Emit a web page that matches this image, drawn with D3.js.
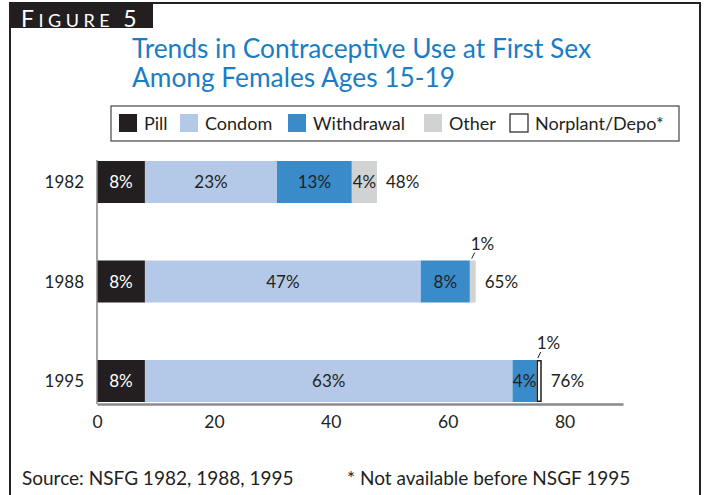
<!DOCTYPE html>
<html><head><meta charset="utf-8">
<script src="https://cdn.jsdelivr.net/npm/d3@7"></script>
<style>body{margin:0;background:#fff}svg{display:block}text{font-family:Lato,"Open Sans",sans-serif}</style>
</head><body>
<script>
const years = ["1982","1988","1995"];
const seriesNames = ["Pill","Condom","Withdrawal","Other","Norplant/Depo*"];
const pill       = [8.2, 8.2, 8.2];
const condom     = [22.6, 47.2, 62.9];
const withdrawal = [12.8, 8.4, 4.1];
const other      = [4.3, 1.0, 0];
const norplant   = [0, 0, 0.9];
const pillLabels       = ["8%","8%","8%"];
const condomLabels     = ["23%","47%","63%"];
const withdrawalLabels = ["13%","8%","4%"];
const otherLabels      = ["4%","1%",""];
const norplantLabels   = ["","","1%"];
const totalLabels      = ["48%","65%","76%"];
const xTicks = [0,20,40,60,80];
const colors = ["#231f20","#b4c9e8","#3a8bc9","#d1d2d4","#ffffff"];

const W=704,H=495;
const svg=d3.select("body").append("svg").attr("width",W).attr("height",H);
svg.append("rect").attr("width",W).attr("height",H).attr("fill","#fff");

// frame
svg.append("path").attr("d","M10,495 V3 H700 V495").attr("fill","none").attr("stroke","#222").attr("stroke-width",2);
svg.append("rect").attr("x",9).attr("y",2).attr("width",144).attr("height",26).attr("fill","#231f20");
const fig=svg.append("text").attr("x",21).attr("y",27).attr("fill","#fff").attr("letter-spacing",4.5);
fig.append("tspan").attr("font-size",23).text("F");
fig.append("tspan").attr("font-size",18).text("IGURE");
fig.append("tspan").attr("font-size",23).attr("dx",9).text("5");

// title
const title=svg.append("text").attr("fill","#1a7dc4").attr("font-size",26.3);
title.append("tspan").attr("x",132).attr("y",58).text("Trends in Contraceptive Use at First Sex");
title.append("tspan").attr("x",132).attr("y",87).text("Among Females Ages 15-19");

// legend
svg.append("rect").attr("x",111).attr("y",106).attr("width",568).attr("height",35).attr("fill","none").attr("stroke","#444").attr("stroke-width",1.2);
const legX=[119,180,288,424,510];
seriesNames.forEach((n,i)=>{
  svg.append("rect").attr("x",legX[i]).attr("y",114).attr("width",18).attr("height",18)
    .attr("fill",colors[i]).attr("stroke",i===4?"#231f20":"none").attr("stroke-width",1.2);
  svg.append("text").attr("x",legX[i]+25).attr("y",129.5).attr("font-size",18).attr("fill","#231f20").text(n);
});

// scales
const x=d3.scaleLinear().domain([0,90]).range([97,623]);
const y=d3.scalePoint().domain(years).range([182,381]);
const bh=42;

const series=[pill,condom,withdrawal,other,norplant];
const labels=[pillLabels,condomLabels,withdrawalLabels,otherLabels,norplantLabels];
const g=svg.append("g");
years.forEach((yr,j)=>{
  let cum=0;
  series.forEach((s,i)=>{
    const v=s[j]; const x0=cum; cum+=v;
    if(v<=0) return;
    g.append("rect").attr("x",x(x0)+(i===4?0.75:0)).attr("y",y(yr)-bh/2+(i===4?0.75:0))
      .attr("width",x(x0+v)-x(x0)-(i===4?1.5:0)).attr("height",bh-(i===4?1.5:0))
      .attr("fill",colors[i]).attr("stroke",i===4?"#231f20":"none").attr("stroke-width",1.5);
    const lab=labels[i][j];
    if(!lab) return;
    const w=x(x0+v)-x(x0);
    if(w>20){
      g.append("text").attr("x",(x(x0)+x(x0+v))/2).attr("y",y(yr)+6).attr("text-anchor","middle")
        .attr("font-size",17).attr("fill",i===0?"#fff":"#231f20").text(lab);
    } else {
      const xe=x(x0+v);
      g.append("line").attr("x1",xe-4).attr("y1",y(yr)-bh/2-2).attr("x2",xe-1).attr("y2",y(yr)-bh/2-8)
        .attr("stroke","#231f20").attr("stroke-width",1);
      g.append("text").attr("x",xe-5).attr("y",y(yr)-bh/2-11).attr("font-size",17).attr("fill","#231f20").text(lab);
    }
  });
  g.append("text").attr("x",x(cum)+9).attr("y",y(yr)+6).attr("font-size",17).attr("fill","#231f20").text(totalLabels[j]);
  svg.append("text").attr("x",84).attr("y",y(yr)+6).attr("text-anchor","end").attr("font-size",17).attr("fill","#231f20").text(yr);
});

// axes
svg.append("line").attr("x1",97).attr("x2",97).attr("y1",160).attr("y2",404).attr("stroke","#8a8a8a").attr("stroke-width",1.5);
const ax=svg.append("g").attr("transform","translate(0,404)")
  .call(d3.axisBottom(x).tickValues(xTicks).tickSize(0).tickPadding(12).tickFormat(d3.format("d")));
ax.select(".domain").attr("stroke","#8a8a8a").attr("stroke-width",2.5);
ax.selectAll("text").attr("font-size",17.5).attr("fill","#231f20").attr("font-family","Lato,sans-serif");

// footer
svg.append("text").attr("x",22).attr("y",485).attr("font-size",19).attr("fill","#231f20").text("Source: NSFG 1982, 1988, 1995");
svg.append("text").attr("x",347).attr("y",485).attr("font-size",19).attr("fill","#231f20").text("* Not available before NSGF 1995");
</script>
</body></html>
